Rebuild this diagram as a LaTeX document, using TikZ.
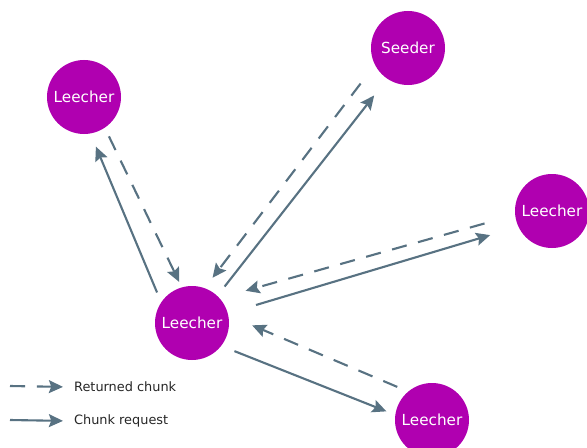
\documentclass[tikz,border=0pt]{standalone}
\usepackage{fontspec}
\setmainfont{DejaVu Sans}
\usetikzlibrary{arrows.meta}
\definecolor{peer}{RGB}{176,0,176}
\definecolor{link}{RGB}{88,114,130}
\tikzset{
  peer/.style={circle,fill=peer,text=white,minimum size=2.22cm,inner sep=0pt,font=\fontsize{13}{15}\selectfont},
  request/.style={line width=1.8pt,draw=link,-{Stealth[length=12pt,width=11pt,inset=2pt]}},
  returned/.style={request,dash pattern=on 13pt off 10pt},
  legend/.style={anchor=west,text=black!85,font=\fontsize{11}{13}\selectfont}
}
\begin{document}
\begin{tikzpicture}[x=0.03cm,y=-0.03cm]
        \useasboundingbox (0,0) rectangle (587,447);
        %% Peers
        \node[peer] (center) at (192,323) {Leecher};
        \node[peer] (seeder) at (408,48) {Seeder};
        \node[peer] (topleft) at (84,97) {Leecher};
        \node[peer] (right) at (552,211) {Leecher};
        \node[peer] (bottom) at (432,420) {Leecher};
        %% Top left leecher
        \draw[request] (center.146) -- (topleft.-80) [shorten <=9pt,shorten >=12pt];
        \draw[returned] (topleft.-56) -- (center.106) [shorten <=8pt,shorten >=5pt];
        %% Seeder
        \draw[returned] (seeder.-153) -- (center.70) [shorten <=20pt,shorten >=11pt];
        \draw[request] (center.47) -- (seeder.-124) [shorten <=10pt,shorten >=18pt];
        %% Right leecher
        \draw[returned] (right.-174) -- (center.42) [shorten <=27pt,shorten >=23pt];
        \draw[request] (center.15) -- (right.-155) [shorten <=25pt,shorten >=25pt];
        %% Bottom leecher
        \draw[returned] (bottom.130) -- (center.12) [shorten <=10pt,shorten >=22pt];
        \draw[request] (center.-38) -- (bottom.172) [shorten <=12pt,shorten >=8pt];
        %% Legend
        \coordinate (retstart) at (10,386);
        \node[legend] (rettext) at (70,387) {Returned chunk};
        \draw[returned] (retstart) -- (rettext.west) [shorten >=6pt];
        \coordinate (reqstart) at (10,420);
        \node[legend] (reqtext) at (70,421) {Chunk request};
        \draw[request] (reqstart) -- (reqtext.west) [shorten >=6pt];
    \end{tikzpicture}
\end{document}
